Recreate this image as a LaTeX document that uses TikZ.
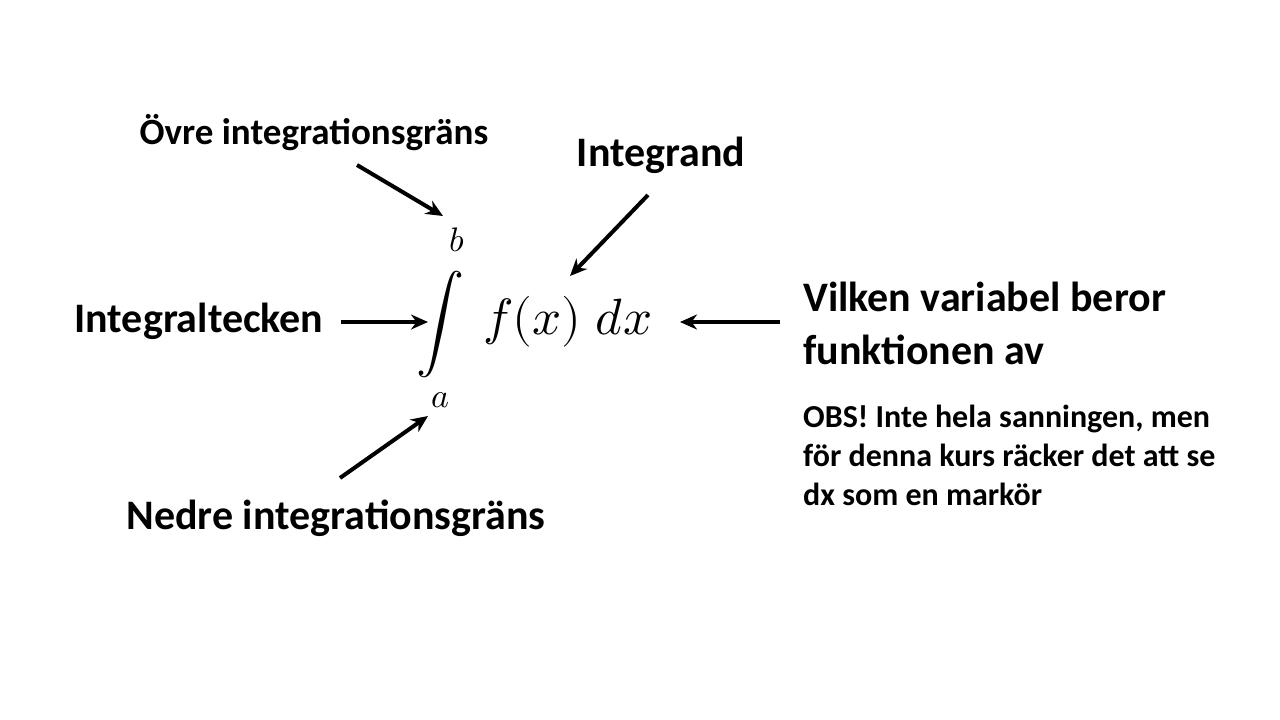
\documentclass[tikz,border=0pt]{standalone}
\usepackage{unicode-math}
\setmainfont{Carlito}
\setmathfont{Latin Modern Math}
\usetikzlibrary{arrows.meta}
\begin{document}
\begin{tikzpicture}[x=1pt,y=-1pt,
  lbl/.style={font=\bfseries\fontsize{42}{48}\selectfont,inner sep=0pt},
  arr/.style={line width=4pt,-{Stealth[length=17pt,width=15pt]}},
  mth/.style={inner sep=0pt}]
\useasboundingbox (0,0) rectangle (1280,720);
\node[lbl,font=\bfseries\fontsize{37}{44}\selectfont] (ovre) at (314,133) {Övre integrationsgräns};
\node[lbl] (integrand) at (661,155) {Integrand};
\node[lbl] (tecken) at (199,321) {Integraltecken};
\node[lbl] (nedre) at (336,518) {Nedre integrationsgräns};
\node[lbl,font=\bfseries\fontsize{42}{53}\selectfont,align=left,anchor=west] (vilken) at (803,323) {Vilken variabel beror\\funktionen av};
\node[lbl,font=\bfseries\fontsize{32}{39}\selectfont,align=left,anchor=north west] (obs) at (803,405) {OBS! Inte hela sanningen, men\\för denna kurs räcker det att se\\dx som en markör};
\node[mth] (int) at (440,324) {\fontsize{48}{48}\selectfont$\displaystyle\int$};
\node[mth] (b) at (457,240) {\fontsize{34}{34}\selectfont$b$};
\node[mth] (a) at (440,400) {\fontsize{34}{34}\selectfont$a$};
\node[mth] (fx) at (568,322) {\fontsize{51}{51}\selectfont$f(x)\;dx$};
\coordinate (c1s) at (357,165); \coordinate (c1e) at (443,216);
\coordinate (c2s) at (648,195); \coordinate (c2e) at (570,276);
\coordinate (c3s) at (341,322); \coordinate (c3e) at (428,322);
\coordinate (c4s) at (340,478); \coordinate (c4e) at (428,416);
\coordinate (c5s) at (780,322); \coordinate (c5e) at (680,322);
\draw[arr] (c1s) -- (c1e);
\draw[arr] (c2s) -- (c2e);
\draw[arr] (c3s) -- (c3e);
\draw[arr] (c4s) -- (c4e);
\draw[arr] (c5s) -- (c5e);
\end{tikzpicture}
\end{document}
